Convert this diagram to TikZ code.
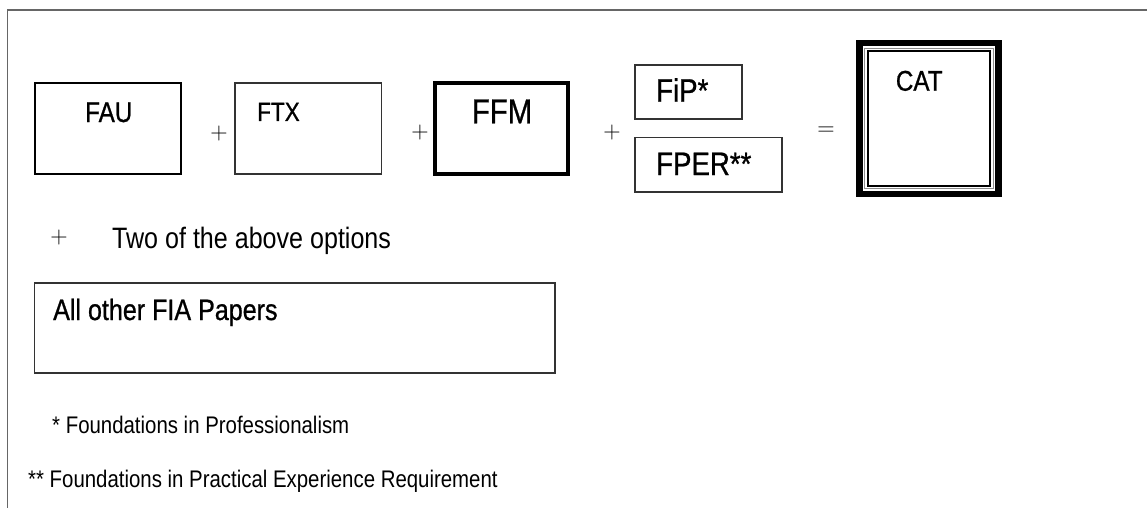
\documentclass[tikz,border=0pt]{standalone}
\usepackage{fontspec}
\newfontfamily\narrowsans[FakeStretch=0.85]{Liberation Sans}
\newfontfamily\heavysans[FakeStretch=0.85,FakeBold=0.8]{Liberation Sans}

\begin{document}
\begin{tikzpicture}[x=1pt,y=-1pt,
  paper/.style={draw, inner sep=0pt, outer sep=0pt, anchor=north west},
  lab/.style={font=\narrowsans\fontsize{#1}{#1}\selectfont, inner sep=0pt, anchor=base west},
  boxlab/.style={font=\heavysans\fontsize{#1}{#1}\selectfont, inner sep=0pt, anchor=base west},
  sign/.style={font=\rmfamily\fontsize{24}{24}\selectfont, inner sep=0pt}]

  \useasboundingbox (0,0) rectangle (1147,508);

  % page frame
  \draw[line width=1.5pt, black!60] (1147,10) -- (7.5,10) -- (7.5,508);

  % the papers of the first row
  \node[paper, line width=2pt, minimum width=146.6pt, minimum height=91pt] (fau) at (34.7,83) {};
  \node[paper, line width=1.2pt, black!80, minimum width=146.7pt, minimum height=91pt] (ftx) at (235,83) {};
  \node[paper, line width=4pt, minimum width=132.7pt, minimum height=90.7pt] (ffm) at (435.3,83) {};
  \node[paper, line width=1.2pt, black!80, minimum width=107pt, minimum height=54pt] (fip) at (635,65) {};
  \node[paper, line width=1.2pt, black!80, minimum width=147pt, minimum height=54.7pt] (fper) at (635,137.3) {};

  % the CAT frame: thick, thin grey, black
  \node[paper, line width=6.5pt, minimum width=139pt, minimum height=150.5pt] (cat) at (859.25,43.25) {};
  \draw[line width=0.8pt, black!45]
  ([shift={(5.25,5.25)}]cat.north west) rectangle ([shift={(-5.25,-5.25)}]cat.south east);
  \draw[line width=2pt]
  ([shift={(8.25,8.25)}]cat.north west) rectangle ([shift={(-8.25,-8.25)}]cat.south east);

  \node[boxlab=28.5] (faulab) at (85,122) {FAU};
  \node[boxlab=26.5] (ftxlab) at (257,121) {FTX};
  \node[boxlab=34.5] (ffmlab) at (471.7,123.3) {FFM};
  \node[boxlab=32.5] (fiplab) at (656,101.7) {FiP*};
  \node[boxlab=32.5] (fperlab) at (656,175) {FPER**};
  \node[boxlab=28.5] (catlab) at (895.7,90.7) {CAT};

  \node[sign] (plusa) at (219,134) {+};
  \node[sign] (plusb) at (420,133) {+};
  \node[sign] (plusc) at (612,133) {+};
  \node[sign] (equal) at (826,131) {=};

  % second option
  \node[sign] (plusd) at (59,238) {+};
  \node[lab=29.5] (twolab) at (112,248) {Two of the above options};

  \node[paper, line width=1.2pt, black!80, minimum width=520.7pt, minimum height=90pt] (other) at (34.3,283) {};
  \node[boxlab=29.5] (otherlab) at (53,320) {All other FIA Papers};

  % footnotes
  \node[lab=24] (fna) at (52,433.5) {* Foundations in Professionalism};
  \node[lab=24] (fnb) at (28,487) {** Foundations in Practical Experience Requirement};

\end{tikzpicture}
\end{document}
